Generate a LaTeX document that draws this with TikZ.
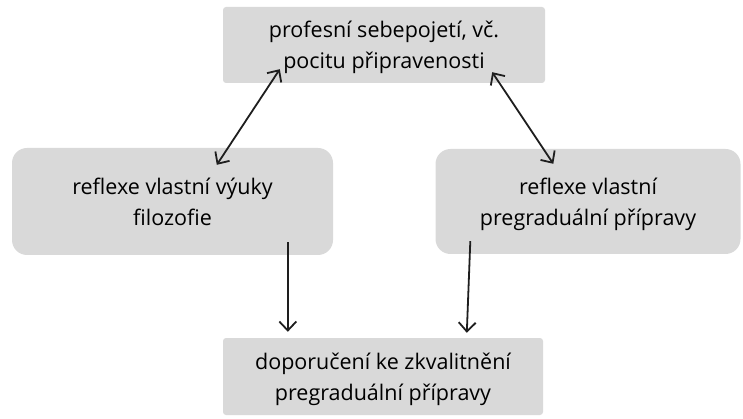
\documentclass[tikz,border=0pt]{standalone}
\usepackage{fontspec}
\setmainfont{Open Sans}
\usetikzlibrary{arrows.meta}
\definecolor{boxgray}{RGB}{217,217,217}
\definecolor{linecol}{RGB}{30,30,30}
\begin{document}
\begin{tikzpicture}[x=1pt,y=-1pt,
  box/.style={fill=boxgray, draw=none, align=center, inner sep=0pt,
    font=\fontsize{21.5}{31}\selectfont, text=black, text depth=-5pt},
  sq/.style={box, rounded corners=3pt},
  rnd/.style={box, rounded corners=15pt},
  conn/.style={draw=linecol, line width=1.8pt, -{Straight Barb[length=9pt,width=17pt,line width=1.8pt]}},
  dconn/.style={draw=linecol, line width=1.8pt, {Straight Barb[length=9pt,width=17pt,line width=1.8pt]}-{Straight Barb[length=9pt,width=17pt,line width=1.8pt]}}]
\useasboundingbox (0,0) rectangle (743,419);
\node[sq, minimum width=322pt, minimum height=76pt] (top) at (384,45)
  {profesní sebepojetí, vč.\\pocitu připravenosti};
\node[rnd, minimum width=321pt, minimum height=107pt] (left) at (172.5,201.5)
  {reflexe vlastní výuky\\filozofie};
\node[rnd, minimum width=305pt, minimum height=105pt] (right) at (588,201.5)
  {reflexe vlastní\\pregraduální přípravy};
\node[sq, minimum width=320pt, minimum height=77pt] (bottom) at (383,376.5)
  {doporučení ke zkvalitnění\\pregraduální přípravy};
\draw[dconn] ([xshift=57pt,yshift=14pt]top.south west) -- ([xshift=205pt,yshift=-17pt]left.north west);
\draw[dconn] ([xshift=-53pt,yshift=11pt]top.south east) -- ([xshift=118pt,yshift=-15pt]right.north west);
\draw[conn] ([xshift=276pt,yshift=13pt]left.south west) -- ([xshift=65pt,yshift=6pt]bottom.north west);
\draw[conn] ([xshift=35pt,yshift=13pt]right.south west) -- ([xshift=244pt,yshift=5pt]bottom.north west);
\end{tikzpicture}
\end{document}
